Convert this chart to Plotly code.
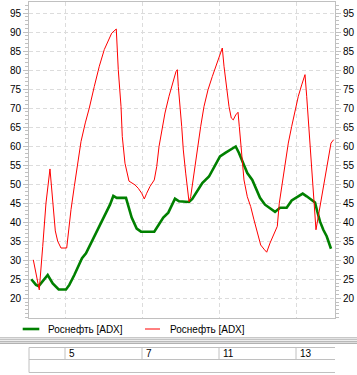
import plotly.graph_objects as go

series_name = "Роснефть [ADX]"
day_labels = ["5", "7", "11", "13"]
day_pos = [1, 3, 5, 7]
y_ticks = [20, 25, 30, 35, 40, 45, 50, 55, 60, 65, 70, 75, 80, 85, 90, 95]

# x in trading-day units (day 4 starts at 0)
green_x = [0.125, 0.247, 0.317, 0.377, 0.462, 0.551, 0.681, 0.836, 1.026, 1.112,
           1.242, 1.371, 1.442, 1.545, 1.675, 1.805, 1.935, 2.065, 2.169, 2.255,
           2.343, 2.584, 2.644, 2.732, 2.862, 2.974, 3.319, 3.423, 3.553, 3.683,
           3.771, 3.857, 3.961, 4.221, 4.306, 4.436, 4.566, 4.740, 4.870, 5.026,
           5.174, 5.304, 5.434, 5.519, 5.631, 5.735, 5.865, 5.953, 6.065, 6.195,
           6.325, 6.455, 6.584, 6.758, 6.888, 7.018, 7.174, 7.278, 7.408, 7.494,
           7.553, 7.623, 7.709, 7.797, 7.909]
green_y = [25.0, 23.5, 23.2, 23.9, 25.0, 26.1, 23.9, 22.3, 22.3, 23.5,
           26.1, 29.2, 30.5, 31.8, 34.5, 37.1, 39.7, 42.4, 44.6, 46.9,
           46.4, 46.4, 44.3, 41.2, 38.3, 37.5, 37.5, 39.0, 41.2, 42.5,
           44.3, 46.2, 45.5, 45.3, 46.1, 48.1, 50.3, 52.0, 54.3, 57.3,
           58.3, 59.2, 59.9, 58.2, 55.5, 52.9, 51.1, 49.0, 46.4, 44.6,
           43.6, 42.7, 43.8, 43.8, 45.7, 46.6, 47.5, 46.8, 45.9, 45.2,
           42.8, 40.2, 38.0, 36.3, 33.0]

red_x = [0.177, 0.291, 0.332, 0.421, 0.506, 0.610, 0.662, 0.696, 0.748, 0.810,
         0.896, 1.044, 1.096, 1.156, 1.242, 1.330, 1.416, 1.527, 1.631, 1.761,
         1.891, 2.021, 2.109, 2.213, 2.332, 2.384, 2.455, 2.488, 2.558, 2.629,
         2.662, 2.818, 2.904, 2.992, 3.060, 3.122, 3.208, 3.319, 3.382, 3.442,
         3.512, 3.597, 3.701, 3.813, 3.883, 3.917, 3.943, 4.031, 4.073, 4.135,
         4.203, 4.221, 4.265, 4.351, 4.436, 4.525, 4.610, 4.714, 4.826, 4.914,
         5.000, 5.086, 5.130, 5.200, 5.260, 5.319, 5.371, 5.434, 5.494, 5.527,
         5.579, 5.649, 5.735, 5.823, 5.909, 5.995, 6.083, 6.169, 6.239, 6.325,
         6.410, 6.514, 6.566, 6.629, 6.714, 6.800, 6.888, 6.974, 7.060, 7.148,
         7.234, 7.278, 7.345, 7.408, 7.475, 7.519, 7.579, 7.668, 7.753, 7.839,
         7.909, 7.979]
red_y = [30.1, 23.5, 22.2, 33.6, 45.0, 54.0, 48.6, 43.8, 37.7, 35.0,
         33.2, 33.2, 38.0, 43.3, 49.4, 55.5, 61.2, 66.1, 70.0, 75.7,
         81.0, 85.4, 87.5, 89.7, 90.8, 80.1, 70.4, 62.5, 55.5, 52.0,
         50.8, 49.8, 48.9, 47.6, 46.1, 47.6, 49.4, 51.1, 54.6, 59.9,
         64.3, 68.7, 73.1, 77.5, 79.6, 80.1, 75.7, 65.2, 59.0, 52.9,
         45.8, 45.4, 46.7, 52.9, 59.9, 65.2, 70.4, 74.8, 78.3, 81.0,
         83.6, 85.8, 81.0, 74.8, 70.4, 67.4, 66.9, 68.2, 68.9, 65.2,
         58.2, 51.1, 46.7, 44.1, 40.6, 37.1, 34.0, 32.9, 32.1, 34.5,
         36.7, 38.9, 45.0, 49.4, 55.5, 60.8, 65.2, 69.6, 73.1, 76.1,
         78.8, 73.1, 63.4, 52.9, 43.3, 38.0, 41.5, 46.7, 52.0, 57.3,
         60.8, 61.7]

W, H = 357, 375
ML, MR, MT, MB = 29, 22, 2, 57
PW, PH = W - ML - MR, H - MT - MB


def px_x(p):
    return (p - ML) / PW


def px_y(p):
    return (H - MB - p) / PH


FRAME = "#c0c0c0"
GRID = "#dcdcdc"

fig = go.Figure()
fig.add_trace(go.Scatter(x=green_x, y=green_y, mode="lines", name=series_name,
                         line=dict(color="#008000", width=2.6), yaxis="y",
                         showlegend=False, hoverinfo="skip"))
fig.add_trace(go.Scatter(x=red_x, y=red_y, mode="lines", name=series_name,
                         line=dict(color="#ff0000", width=1), yaxis="y2",
                         showlegend=False, hoverinfo="skip"))

yr = [14.8, 97.9]
yaxis_common = dict(
    range=yr, tickmode="array", tickvals=y_ticks, ticks="outside", ticklen=5,
    tickcolor=FRAME, tickwidth=1, zeroline=False,
    minor=dict(dtick=1, tick0=0, ticks="outside", ticklen=3, tickcolor=FRAME,
               showgrid=False),
    tickfont=dict(size=10, color="black"),
)

shapes = []
# legend samples
shapes.append(dict(type="line", xref="paper", yref="paper",
                   x0=px_x(22.7), x1=px_x(39.3), y0=px_y(329), y1=px_y(329),
                   line=dict(color="#008000", width=2.6)))
shapes.append(dict(type="line", xref="paper", yref="paper",
                   x0=px_x(145), x1=px_x(160), y0=px_y(329), y1=px_y(329),
                   line=dict(color="#ff0000", width=1)))
# separator lines
for py, col in [(337.5, "#c8c8c8"), (339.2, "#a8a8a8"), (341.3, "#a8a8a8"), (343.2, "#909090")]:
    shapes.append(dict(type="line", xref="paper", yref="paper",
                       x0=px_x(0), x1=px_x(W), y0=px_y(py), y1=px_y(py),
                       line=dict(color=col, width=1)))
# table
for py in [347.5, 359.5, 372.5]:
    shapes.append(dict(type="line", xref="paper", yref="paper",
                       x0=0, x1=1, y0=px_y(py), y1=px_y(py),
                       line=dict(color=FRAME, width=1)))
shapes.append(dict(type="line", xref="paper", yref="paper",
                   x0=0, x1=0, y0=px_y(347.5), y1=px_y(372.5),
                   line=dict(color=FRAME, width=1)))
for d in day_pos:
    shapes.append(dict(type="line", xref="x", yref="paper",
                       x0=d, x1=d, y0=px_y(347.5), y1=px_y(359.5),
                       line=dict(color=FRAME, width=1)))

annotations = []
for d, lab in zip(day_pos, day_labels):
    annotations.append(dict(x=d, xref="x", y=px_y(353.5), yref="paper",
                            text=lab, showarrow=False, xanchor="left",
                            yanchor="middle", xshift=2,
                            font=dict(size=10, color="black")))
annotations.append(dict(x=px_x(46), xref="paper", y=px_y(329), yref="paper",
                        text=series_name, showarrow=False, xanchor="left",
                        yanchor="middle", font=dict(size=10, color="black")))
annotations.append(dict(x=px_x(168), xref="paper", y=px_y(329), yref="paper",
                        text=series_name, showarrow=False, xanchor="left",
                        yanchor="middle", font=dict(size=10, color="black")))

fig.update_layout(
    width=W, height=H, autosize=False,
    margin=dict(l=ML, r=MR, t=MT, b=MB, pad=0),
    paper_bgcolor="white", plot_bgcolor="white",
    font=dict(family="Liberation Sans, Arial, sans-serif", size=10, color="black"),
    showlegend=False,
    xaxis=dict(range=[0.065, 8.013], tickmode="array", tickvals=day_pos,
               showticklabels=False, ticks="", showgrid=True, gridcolor=GRID,
               griddash="4px,3px", gridwidth=1, zeroline=False,
               showline=True, linecolor=FRAME, linewidth=1, mirror=True),
    yaxis=dict(side="left", showgrid=True, gridcolor=GRID, griddash="4px,3px",
               gridwidth=1, showline=True, linecolor=FRAME, linewidth=1,
               mirror=True, **yaxis_common),
    yaxis2=dict(side="right", overlaying="y", showgrid=False, showline=False,
                **yaxis_common),
    shapes=shapes,
    annotations=annotations,
)

fig.write_html("out.html", config={"displayModeBar": False, "staticPlot": True},
               post_script="document.body.style.margin='0';document.body.style.overflow='hidden';")
